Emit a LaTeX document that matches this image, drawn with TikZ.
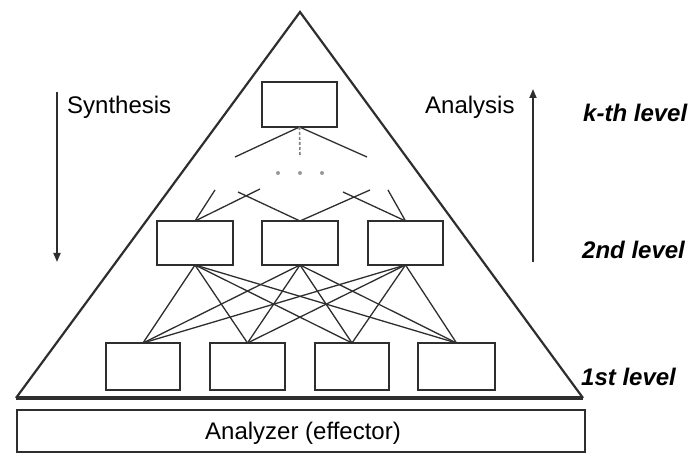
\documentclass[tikz,border=0pt]{standalone}
\usepackage{fontspec}
\setmainfont{Liberation Sans}
\usetikzlibrary{arrows.meta}
\definecolor{ln}{HTML}{2E2E2E}
\begin{document}
\begin{tikzpicture}[x=1pt,y=-1pt,
  unit/.style={draw=ln,line width=2.6pt,minimum width=74pt,minimum height=45pt,inner sep=0pt,outer sep=0pt},
  conn/.style={draw=ln,line width=1.3pt},
  lbl/.style={font=\fontsize{24}{24}\selectfont,inner sep=0pt},
  lvl/.style={font=\fontsize{24}{24}\selectfont\bfseries\itshape,inner sep=0pt,anchor=west},
  flow/.style={draw=ln,line width=1.8pt,-{Triangle[length=9pt,width=7pt]}}]
\useasboundingbox (0,0) rectangle (689,454);
% triangle
\coordinate (apex) at (300,12);
\coordinate (bl) at (16,398);
\coordinate (br) at (583,398);
\draw[ln,line width=2.2pt,line join=miter] (bl) -- (apex) -- (br);
\draw[ln,line width=3.2pt] (bl) -- (br);
% analyzer
\node[draw=ln,line width=2.6pt,minimum width=568pt,minimum height=42pt,inner sep=0pt] (an) at (301,431) {};
\node[lbl] (antext) at (303,433) {Analyzer (effector)};
% top box
\node[unit,minimum width=75pt,minimum height=45pt] (top) at (299.5,104.5) {};
% level 2
\node[unit,minimum width=76pt,minimum height=44pt] (m1) at (195,243) {};
\node[unit,minimum width=76pt,minimum height=44pt] (m2) at (300,243) {};
\node[unit,minimum width=75pt,minimum height=44pt] (m3) at (405.5,243) {};
% level 1
\node[unit,minimum width=74pt,minimum height=47pt] (b1) at (143,366.5) {};
\node[unit,minimum width=75pt,minimum height=47pt] (b2) at (247.5,366.5) {};
\node[unit,minimum width=74pt,minimum height=47pt] (b3) at (352,366.5) {};
\node[unit,minimum width=77pt,minimum height=47pt] (b4) at (456.5,366.5) {};
% full connections level 2 -> level 1
\foreach \m in {m1,m2,m3}{
  \foreach \b in {b1,b2,b3,b4}{
    \draw[conn] (\m.south) -- (\b.north);
  }
}
% top box fan-out
\coordinate (tl) at (235,157);
\coordinate (tr) at (367,157);
\coordinate (tm) at (300,157);
\draw[conn] (top.south) -- (tl);
\draw[conn] (top.south) -- (tr);
\draw[draw=gray,line width=1.6pt,dash pattern=on 3pt off 2pt] (top.south) -- (tm);
\node[circle,fill=gray!80,inner sep=0pt,minimum size=4pt] (d1) at (278,173) {};
\node[circle,fill=gray!80,inner sep=0pt,minimum size=4pt] (d2) at (300,173) {};
\node[circle,fill=gray!80,inner sep=0pt,minimum size=4pt] (d3) at (322,173) {};
% level 2 upward stubs
\coordinate (u1) at (215,190);
\coordinate (u2) at (260,189);
\coordinate (u3) at (238,192);
\coordinate (u4) at (370,190);
\coordinate (u5) at (343,192);
\coordinate (u6) at (388,190);
\draw[conn] (m1.north) -- (u1);
\draw[conn] (m1.north) -- (u2);
\draw[conn] (m2.north) -- (u3);
\draw[conn] (m2.north) -- (u4);
\draw[conn] (m3.north) -- (u5);
\draw[conn] (m3.north) -- (u6);
% flow arrows
\coordinate (s1) at (57,92);
\coordinate (s2) at (57,262);
\coordinate (a1) at (533,262);
\coordinate (a2) at (533,89);
\draw[flow] (s1) -- (s2);
\draw[flow] (a1) -- (a2);
\node[lbl,anchor=west] (syn) at (67,107) {Synthesis};
\node[lbl,anchor=west] (ana) at (425,107) {Analysis};
% level labels
\node[lvl] (lk) at (583,113) {k-th level};
\node[lvl] (l2) at (582,250) {2nd level};
\node[lvl] (l1) at (581,377) {1st level};
\end{tikzpicture}
\end{document}
